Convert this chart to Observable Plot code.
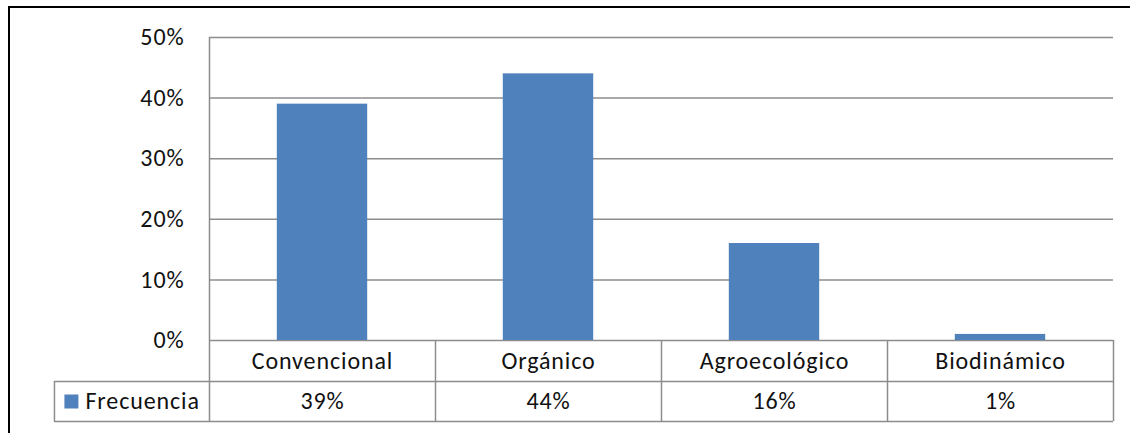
<!DOCTYPE html>
<html>
<head>
<meta charset="utf-8">
<script src="https://cdn.jsdelivr.net/npm/d3@7"></script>
<script src="https://cdn.jsdelivr.net/npm/@observablehq/plot@0.6"></script>
<style>
  html, body { margin: 0; padding: 0; background: #fff; }
  #wrap { position: relative; width: 1130px; height: 433px; overflow: hidden; }
  #frame { position: absolute; left: 8px; top: 6px; width: 1200px; height: 600px; border: 2px solid #000; box-sizing: border-box; pointer-events: none; }
  #wrap svg text { letter-spacing: 0.9px; }
</style>
</head>
<body>
<div id="wrap"><div id="frame"></div></div>
<script>
const categories = ["Convencional", "Orgánico", "Agroecológico", "Biodinámico"];
const values = [0.39, 0.44, 0.16, 0.01];
const seriesName = "Frecuencia";
const yTicks = [0, 0.1, 0.2, 0.3, 0.4, 0.5];

const data = categories.map((cat, i) => ({cat, i, value: values[i]}));
const pct = d3.format(".0%");

// table geometry in y units (rows below the zero line)
const rowLine = -0.0677, tableBottom = -0.1337;
const row1Mid = rowLine / 2, row2Mid = (rowLine + tableBottom) / 2;
const legendLeft = -0.686;
const grid = "#8c8c8c";
const font = "Carlito, Calibri, Lato, sans-serif";

const chart = Plot.plot({
  width: 1130,
  height: 433,
  marginLeft: 209,
  marginRight: 17,
  marginTop: 37,
  marginBottom: 12,
  x: {type: "linear", domain: [0, categories.length], axis: null},
  y: {domain: [tableBottom, 0.5], axis: null},
  style: {fontFamily: font, fontSize: "24px", fontWeight: 400, color: "#000", background: "transparent", overflow: "visible"},
  marks: [
    Plot.ruleY(yTicks, {x1: 0, x2: categories.length, stroke: grid, strokeWidth: 1.5}),
    Plot.rectY(data, {x1: d => d.i + 0.3, x2: d => d.i + 0.7, y1: 0, y2: "value", fill: "#4F81BD"}),
    Plot.ruleX([0], {y1: tableBottom, y2: 0.5, stroke: grid, strokeWidth: 1.5}),
    Plot.ruleX(d3.range(1, categories.length + 1), {y1: tableBottom, y2: 0, stroke: grid, strokeWidth: 1.5}),
    Plot.ruleX([legendLeft], {y1: tableBottom, y2: rowLine, stroke: grid, strokeWidth: 1.5}),
    Plot.ruleY([rowLine, tableBottom], {x1: legendLeft, x2: categories.length, stroke: grid, strokeWidth: 1.5}),
    Plot.text(yTicks, {x: 0, y: d => d, text: d => pct(d), textAnchor: "end", dx: -25, fill: "#111"}),
    Plot.text(data, {x: d => d.i + 0.5, y: row1Mid, text: "cat", fill: "#111"}),
    Plot.text(data, {x: d => d.i + 0.5, y: row2Mid, text: d => pct(d.value), fill: "#111"}),
    Plot.dot([seriesName], {x: legendLeft + 0.075, y: row2Mid, symbol: "square", r: 7.9, fill: "#4F81BD", stroke: null}),
    Plot.text([seriesName], {x: legendLeft + 0.137, y: row2Mid, text: d => d, textAnchor: "start", fill: "#111"})
  ]
});
chart.style.position = "absolute";
chart.style.left = "0";
chart.style.top = "0";
document.getElementById("wrap").insertBefore(chart, document.getElementById("frame"));
</script>
</body>
</html>
